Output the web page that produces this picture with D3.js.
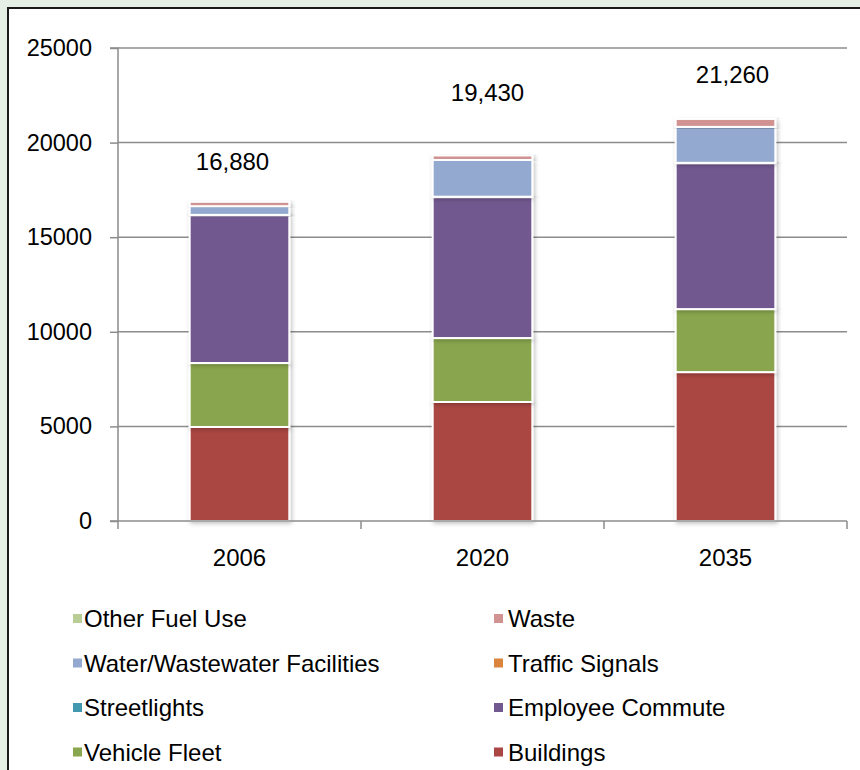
<!DOCTYPE html>
<html>
<head>
<meta charset="utf-8">
<script src="https://cdn.jsdelivr.net/npm/d3@7"></script>
<style>
  html, body { margin: 0; padding: 0; background: #e5efe5; }
  svg { display: block; font-family: "Liberation Sans", Arial, sans-serif; }
</style>
</head>
<body>
<div id="chart"></div>
<script>
// categories and series (bottom to top of the stack)
const years = ["2006", "2020", "2035"];
const seriesNames = [
  "Buildings",
  "Vehicle Fleet",
  "Employee Commute",
  "Streetlights",
  "Traffic Signals",
  "Water/Wastewater Facilities",
  "Waste",
  "Other Fuel Use",
];
const buildings = [4970, 6290, 7870];
const vehicleFleet = [3380, 3380, 3330];
const employeeCommute = [7800, 7440, 7700];
const streetlights = [20, 20, 20];
const trafficSignals = [10, 10, 10];
const waterWastewater = [460, 1940, 1900];
const waste = [230, 240, 420];
const otherFuelUse = [10, 10, 10];
const totalLabels = ["16,880", "19,430", "21,260"];
const labelLevels = [18550, 22200, 23150];
const labelShift = [-7, 5, 7];
const yTicks = [0, 5000, 10000, 15000, 20000, 25000];

// legend order as shown (row by row)
const legendOrder = [
  "Other Fuel Use", "Waste",
  "Water/Wastewater Facilities", "Traffic Signals",
  "Streetlights", "Employee Commute",
  "Vehicle Fleet", "Buildings",
];

const colors = {
  "Buildings": "#aa4643",
  "Vehicle Fleet": "#89a54e",
  "Employee Commute": "#71588f",
  "Streetlights": "#4198af",
  "Traffic Signals": "#db843d",
  "Water/Wastewater Facilities": "#93a9cf",
  "Waste": "#d19392",
  "Other Fuel Use": "#b9cd96",
};

const seriesValues = [buildings, vehicleFleet, employeeCommute, streetlights,
  trafficSignals, waterWastewater, waste, otherFuelUse];

const table = years.map((y, i) => {
  const row = { year: y };
  seriesNames.forEach((s, k) => (row[s] = seriesValues[k][i]));
  return row;
});

const W = 860, H = 770;
const margin = { top: 48, right: 13, bottom: 249, left: 118 };
const width = W - margin.left - margin.right;
const height = H - margin.top - margin.bottom;
const fontSize = 24;

const svg = d3.select("#chart").append("svg").attr("width", W).attr("height", H);

// panel
svg.append("rect").attr("x", 0).attr("y", 0).attr("width", W).attr("height", H).attr("fill", "#e5efe5");
svg.append("rect").attr("x", 8).attr("y", 8).attr("width", W).attr("height", H)
  .attr("fill", "#ffffff").attr("stroke", "#1a1a1a").attr("stroke-width", 2);

const defs = svg.append("defs");
const shadow = defs.append("filter").attr("id", "shadow")
  .attr("x", "-20%").attr("y", "-20%").attr("width", "140%").attr("height", "140%");
shadow.append("feDropShadow").attr("dx", 1.5).attr("dy", 1.5).attr("stdDeviation", 2)
  .attr("flood-color", "#000").attr("flood-opacity", 0.25);

const g = svg.append("g").attr("transform", `translate(${margin.left},${margin.top})`);

const x = d3.scaleBand().domain(years).range([0, width]).paddingInner(0.59).paddingOuter(0.295);
const y = d3.scaleLinear().domain([0, 25000]).range([height, 0]);

// gridlines
g.append("g").selectAll("line").data(yTicks.filter((t) => t > 0)).join("line")
  .attr("x1", 0).attr("x2", width)
  .attr("y1", (d) => y(d)).attr("y2", (d) => y(d))
  .attr("stroke", "#8c8c8c").attr("stroke-width", 1.5);

// stacked bars
const stack = d3.stack().keys(seriesNames);
const layers = stack(table);

g.append("g").selectAll("g").data(layers).join("g")
  .attr("fill", (d) => colors[d.key])
  .selectAll("rect").data((d) => d).join("rect")
  .attr("x", (d) => x(d.data.year))
  .attr("y", (d) => y(d[1]))
  .attr("width", x.bandwidth())
  .attr("height", (d) => Math.max(0, y(d[0]) - y(d[1])))
  .attr("stroke", "#ffffff").attr("stroke-width", 2)
  .attr("filter", "url(#shadow)");

// axes
const yAxis = d3.axisLeft(y).tickValues(yTicks).tickSize(8).tickPadding(18).tickFormat(d3.format("d"));
const yg = g.append("g").call(yAxis);
yg.select(".domain").attr("stroke", "#8c8c8c").attr("stroke-width", 1.5).attr("d", `M-8,0H0V${height}H-8`);
yg.selectAll(".tick line").attr("stroke", "#8c8c8c").attr("stroke-width", 1.5);
yg.selectAll(".tick text").attr("font-size", 23.5).attr("fill", "#000")
  .attr("font-family", "Liberation Sans, Arial, sans-serif");

const xg = g.append("g").attr("transform", `translate(0,${height})`)
  .call(d3.axisBottom(x).tickSize(0).tickPadding(28));
xg.select(".domain").attr("stroke", "#8c8c8c").attr("stroke-width", 1.5).attr("d", `M0,0H${width}`);
xg.selectAll(".tick text").attr("font-size", fontSize).attr("fill", "#000")
  .attr("font-family", "Liberation Sans, Arial, sans-serif");
// category boundary ticks
const step = x.step();
g.append("g").selectAll("line").data(d3.range(years.length + 1)).join("line")
  .attr("x1", (i) => i * step).attr("x2", (i) => i * step)
  .attr("y1", height).attr("y2", height + 8)
  .attr("stroke", "#8c8c8c").attr("stroke-width", 1.5);

// total labels
g.append("g").selectAll("text").data(years).join("text")
  .attr("x", (d, i) => x(d) + x.bandwidth() / 2 + labelShift[i])
  .attr("y", (d, i) => y(labelLevels[i]))
  .attr("text-anchor", "middle").attr("font-size", fontSize).attr("fill", "#000")
  .text((d, i) => totalLabels[i]);

// legend
const legend = svg.append("g").attr("transform", "translate(73,619)");
const item = legend.selectAll("g").data(legendOrder).join("g")
  .attr("transform", (d, i) => `translate(${(i % 2) * 421},${Math.floor(i / 2) * 44.5})`);
item.append("rect").attr("x", 0).attr("y", -5).attr("width", 9).attr("height", 9)
  .attr("fill", (d) => colors[d]);
item.append("text").attr("x", (d, i) => (i % 2 ? 14 : 11)).attr("y", 0).attr("dy", "0.35em")
  .attr("font-size", fontSize).attr("fill", "#000").text((d) => d);
</script>
</body>
</html>
